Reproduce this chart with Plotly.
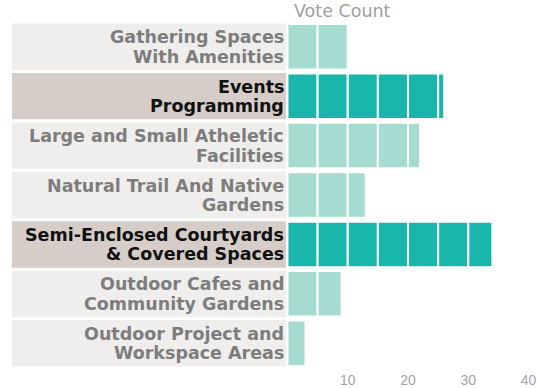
import plotly.graph_objects as go

# Survey results: votes per amenity type
categories = [
    "Gathering Spaces\nWith Amenities",
    "Events\nProgramming",
    "Large and Small Atheletic\nFacilities",
    "Natural Trail And Native\nGardens",
    "Semi-Enclosed Courtyards\n& Covered Spaces",
    "Outdoor Cafes and\nCommunity Gardens",
    "Outdoor Project and\nWorkspace Areas",
]
votes = [10, 26, 22, 13, 34, 9, 3]
highlighted = [False, True, False, False, True, False, False]
tick_values = [10, 20, 30, 40]
axis_title = "Vote Count"
segment_size = 5

# Axis extent: the negative part holds the label panels
X_MIN, X_MAX = -45.7, 41.07
LABEL_EDGE = -0.25

LIGHT_BAR = "#a6dbd2"
DARK_BAR = "#19b7ab"
LIGHT_BOX = "#f0eeec"
DARK_BOX = "#d6cdc8"
LIGHT_TEXT = "#7d7d7d"
DARK_TEXT = "#111111"
LABEL_FONT = "DejaVu Sans, Verdana, sans-serif"

rows = list(range(len(categories)))

# Split each bar into blocks of `segment_size` votes
seg_y, seg_base, seg_len, seg_color = [], [], [], []
for i, (v, hi) in enumerate(zip(votes, highlighted)):
    start = 0
    while start < v:
        seg_y.append(i)
        seg_base.append(start)
        seg_len.append(min(segment_size, v - start))
        seg_color.append(DARK_BAR if hi else LIGHT_BAR)
        start += segment_size

fig = go.Figure()

# Label panels
fig.add_trace(go.Bar(
    y=rows,
    x=[LABEL_EDGE - X_MIN] * len(rows),
    base=[X_MIN] * len(rows),
    orientation="h",
    width=0.94,
    marker=dict(color=[DARK_BOX if h else LIGHT_BOX for h in highlighted], line=dict(width=0)),
    hoverinfo="skip",
    showlegend=False,
))

# Vote bars
fig.add_trace(go.Bar(
    y=seg_y,
    x=seg_len,
    base=seg_base,
    orientation="h",
    width=0.92,
    marker=dict(color=seg_color, line=dict(color="white", width=2)),
    hoverinfo="skip",
    showlegend=False,
))

annotations = []
for i, (label, hi) in enumerate(zip(categories, highlighted)):
    lines = label.split("\n")
    for k, line in enumerate(lines):
        annotations.append(dict(
            x=LABEL_EDGE, y=i, xref="x", yref="y",
            text=line, showarrow=False,
            xanchor="right", yanchor="middle",
            xshift=0, yshift=9.5 - 19.5 * k,
            font=dict(family=LABEL_FONT, size=17.5, weight="bold",
                      color=DARK_TEXT if hi else LIGHT_TEXT),
        ))

annotations.append(dict(
    x=0, y=1, xref="x", yref="paper",
    text=axis_title, showarrow=False,
    xanchor="left", yanchor="bottom",
    xshift=5, yshift=-1,
    font=dict(family="DejaVu Sans, sans-serif", size=17.5, color="#a0a0a0"),
))

fig.update_layout(
    width=537, height=388,
    margin=dict(l=12, r=0, t=22, b=16),
    paper_bgcolor="white",
    plot_bgcolor="white",
    barmode="overlay",
    annotations=annotations,
    xaxis=dict(
        range=[X_MIN, X_MAX],
        tickvals=tick_values,
        showgrid=False, zeroline=False, showline=False,
        ticks="", ticklabelstandoff=2,
        ticklabeloverflow="allow",
        tickfont=dict(family="Liberation Sans, Arial, sans-serif", size=14, color="#a3a3a3"),
        fixedrange=True,
    ),
    yaxis=dict(
        range=[len(rows) - 0.5, -0.5],
        showticklabels=False, showgrid=False, zeroline=False, showline=False,
        fixedrange=True,
    ),
)

fig.write_html("out.html")
